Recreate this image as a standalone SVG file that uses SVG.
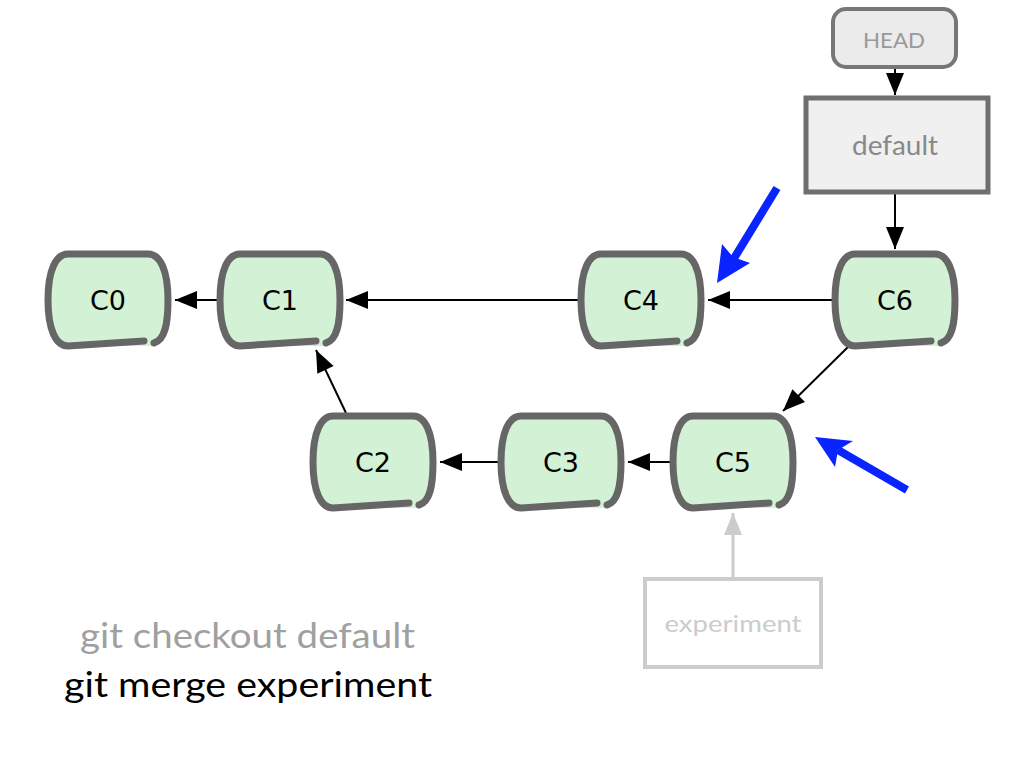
<svg xmlns="http://www.w3.org/2000/svg" width="1024" height="768" viewBox="0 0 1024 768">
<style>
.nf{fill:#d3f1d5;stroke:none}
.ns{fill:none;stroke:#666;stroke-width:7;stroke-linecap:round;stroke-linejoin:round}
.nt{font-family:"DejaVu Sans",sans-serif;font-size:27px;fill:#000;text-anchor:middle}
.e{stroke:#000;stroke-width:2;fill:none;marker-end:url(#ah)}
.eg{stroke:#ccc;stroke-width:3;fill:none;marker-end:url(#ahg)}
.blue{stroke:#0a24ff;stroke-width:8;fill:none;stroke-linecap:butt}
.lbl{font-family:"Lato","Open Sans",sans-serif;text-anchor:middle}
</style>
<defs>
<marker id="ah" markerUnits="userSpaceOnUse" markerWidth="26" markerHeight="22" viewBox="0 0 26 22" refX="24" refY="11" orient="auto"><path d="M2,2 L24,11 L2,20 Z" fill="#000"/></marker>
<marker id="ahg" markerUnits="userSpaceOnUse" markerWidth="26" markerHeight="22" viewBox="0 0 26 22" refX="24" refY="11" orient="auto"><path d="M2,2 L24,11 L2,20 Z" fill="#ccc"/></marker>
<g id="shape">
<path class="nf" d="M -40,-46 H 40 C 52,-46 60,-30 60,0 C 60,26 56,46 42,46 L -40,46 C -52,46 -60,30 -60,0 C -60,-30 -52,-46 -40,-46 Z"/>
<path class="ns" d="M 36,41 L -40,46 C -52,46 -60,30 -60,0 C -60,-30 -52,-46 -40,-46 H 40 C 52,-46 60,-30 60,0 C 60,24 57,40 46,43"/>
</g>
</defs>
<g id="connectors">
<line class="e" x1="218" y1="300" x2="175" y2="300"/>
<line class="e" x1="579" y1="300" x2="346" y2="300"/>
<line class="e" x1="833" y1="300" x2="708" y2="300"/>
<line class="e" x1="848" y1="347" x2="783" y2="411"/>
<line class="e" x1="671" y1="462" x2="628" y2="462"/>
<line class="e" x1="499" y1="462" x2="440" y2="462"/>
<line class="e" x1="346" y1="413" x2="316" y2="350"/>
<line class="e" x1="895" y1="68" x2="895" y2="95"/>
<line class="e" x1="895" y1="193" x2="895" y2="249"/>
<line class="eg" x1="733" y1="577" x2="733" y2="513"/>
</g>
<g id="C0"><use href="#shape" x="108" y="300"/><text class="nt" x="108" y="310">C0</text></g>
<g id="C1"><use href="#shape" x="280" y="300"/><text class="nt" x="280" y="310">C1</text></g>
<g id="C4"><use href="#shape" x="641" y="300"/><text class="nt" x="641" y="310">C4</text></g>
<g id="C6"><use href="#shape" x="895" y="300"/><text class="nt" x="895" y="310">C6</text></g>
<g id="C2"><use href="#shape" x="373" y="462"/><text class="nt" x="373" y="472">C2</text></g>
<g id="C3"><use href="#shape" x="561" y="462"/><text class="nt" x="561" y="472">C3</text></g>
<g id="C5"><use href="#shape" x="733" y="462"/><text class="nt" x="733" y="472">C5</text></g>
<g id="HEAD"><rect x="833" y="9" width="123" height="58" rx="13" fill="#ebebeb" stroke="#777" stroke-width="4"/><text class="lbl" x="894" y="48" font-size="21" fill="#999" textLength="62" lengthAdjust="spacingAndGlyphs">HEAD</text></g>
<g id="default"><rect x="806" y="98" width="182" height="94" fill="#f0f0f0" stroke="#6f6f6f" stroke-width="5"/><text class="lbl" x="895" y="155" font-size="26" fill="#888" textLength="86" lengthAdjust="spacingAndGlyphs">default</text></g>
<g id="experiment"><rect x="645" y="579" width="176" height="88" fill="#fff" stroke="#ccc" stroke-width="4"/><text class="lbl" x="733" y="632" font-size="24" fill="#ccc" textLength="137" lengthAdjust="spacingAndGlyphs">experiment</text></g>
<g id="blue-arrows">
<line class="blue" x1="777" y1="188" x2="733" y2="260"/>
<path d="M717,283 L722,244 L733,257 L750,263 Z" fill="#0a24ff"/>
<line class="blue" x1="907" y1="490" x2="838" y2="450"/>
<path d="M815,437 L853,441 L838,450 L835,467 Z" fill="#0a24ff"/>
</g>
<g id="caption">
<text font-family="Lato,'Open Sans',sans-serif" font-size="34" fill="#a0a0a0" x="80" y="648" textLength="335" lengthAdjust="spacingAndGlyphs">git checkout default</text>
<text font-family="Lato,'Open Sans',sans-serif" font-size="34" fill="#000" x="64" y="697" textLength="368" lengthAdjust="spacingAndGlyphs">git merge experiment</text>
</g>
</svg>
